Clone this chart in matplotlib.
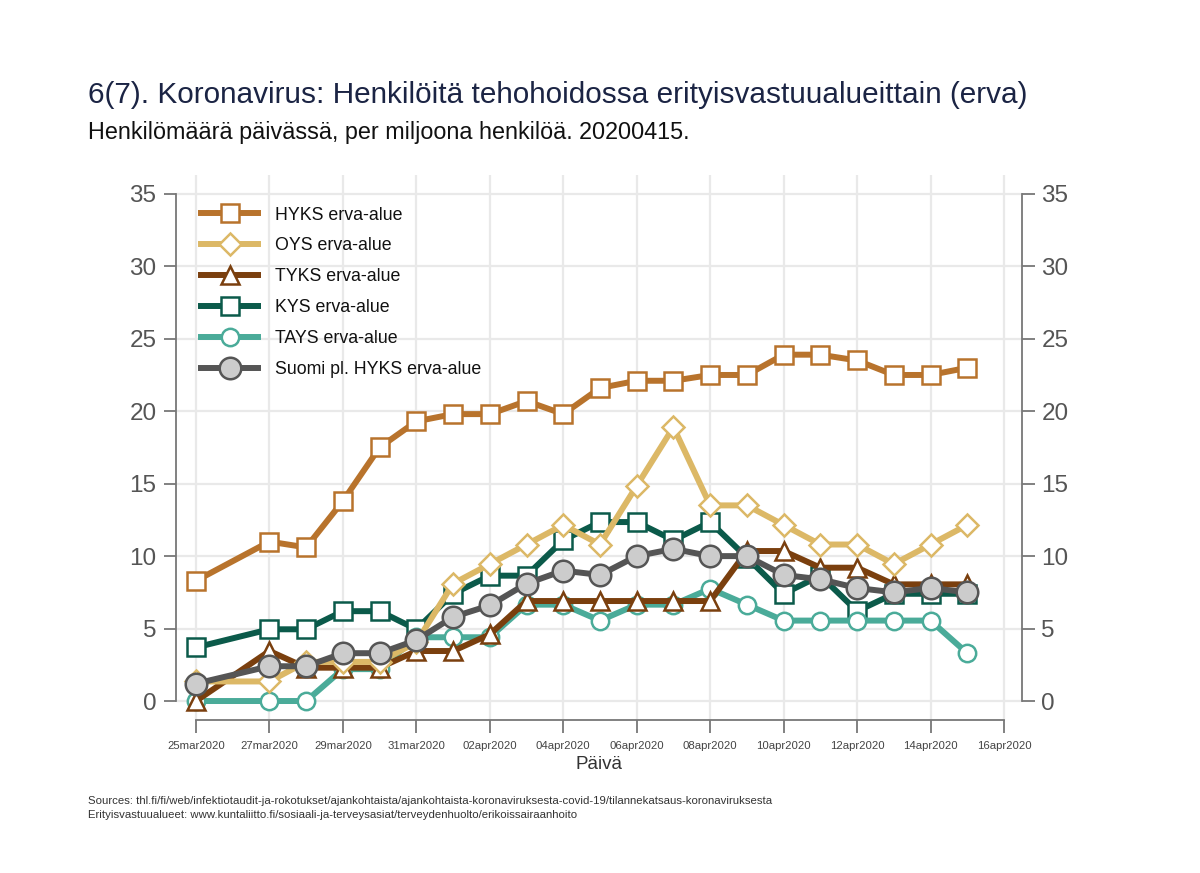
import matplotlib
matplotlib.use("Agg")
import matplotlib.pyplot as plt
import matplotlib.dates as mdates
import pandas as pd

plt.rcParams['font.family'] = ['Liberation Sans', 'DejaVu Sans']

dates = pd.to_datetime(['2020-03-25', '2020-03-27', '2020-03-28', '2020-03-29', '2020-03-30',
                        '2020-03-31', '2020-04-01', '2020-04-02', '2020-04-03', '2020-04-04',
                        '2020-04-05', '2020-04-06', '2020-04-07', '2020-04-08', '2020-04-09',
                        '2020-04-10', '2020-04-11', '2020-04-12', '2020-04-13', '2020-04-14',
                        '2020-04-15'])

hyks = [8.3, 11.0, 10.6, 13.8, 17.5, 19.3, 19.8, 19.8, 20.7, 19.8, 21.6, 22.1, 22.1, 22.5, 22.5,
        23.9, 23.9, 23.5, 22.5, 22.5, 23.0]
oys = [1.35, 1.35, 2.7, 2.7, 2.7, 4.05, 8.1, 9.45, 10.8, 12.15, 10.8, 14.85, 18.9, 13.5, 13.5,
       12.15, 10.8, 10.8, 9.45, 10.8, 12.15]
tyks = [0, 3.45, 2.3, 2.3, 2.3, 3.45, 3.45, 4.6, 6.9, 6.9, 6.9, 6.9, 6.9, 6.9, 10.35, 10.35,
        9.2, 9.2, 8.05, 8.05, 8.05]
kys = [3.7, 4.95, 4.95, 6.2, 6.2, 4.95, 7.4, 8.65, 8.65, 11.1, 12.35, 12.35, 11.1, 12.35, 9.9,
       7.4, 8.65, 6.2, 7.4, 7.4, 7.4]
tays = [0, 0, 0, 2.2, 2.2, 4.4, 4.4, 4.4, 6.65, 6.65, 5.55, 6.65, 6.65, 7.75, 6.65, 5.55, 5.55,
        5.55, 5.55, 5.55, 3.3]
suomi = [1.2, 2.4, 2.4, 3.3, 3.3, 4.2, 5.8, 6.6, 8.1, 9.0, 8.7, 10.0, 10.5, 10.0, 10.0, 8.7,
         8.4, 7.8, 7.5, 7.8, 7.5]

labels = ['HYKS erva-alue', 'OYS erva-alue', 'TYKS erva-alue', 'KYS erva-alue',
          'TAYS erva-alue', 'Suomi pl. HYKS erva-alue']

xtick_dates = pd.date_range('2020-03-25', '2020-04-16', freq='2D')
xtick_labels = ['25mar2020', '27mar2020', '29mar2020', '31mar2020', '02apr2020', '04apr2020',
                '06apr2020', '08apr2020', '10apr2020', '12apr2020', '14apr2020', '16apr2020']
yticks = [0, 5, 10, 15, 20, 25, 30, 35]

title = '6(7). Koronavirus: Henkilöitä tehohoidossa erityisvastuualueittain (erva)'
subtitle = 'Henkilömäärä päivässä, per miljoona henkilöä. 20200415.'
xlabel = 'Päivä'
sources = ('Sources: thl.fi/fi/web/infektiotaudit-ja-rokotukset/ajankohtaista/ajankohtaista-koronaviruksesta-covid-19/tilannekatsaus-koronaviruksesta\n'
           'Erityisvastuualueet: www.kuntaliitto.fi/sosiaali-ja-terveysasiat/terveydenhuolto/erikoissairaanhoito')

fig = plt.figure(figsize=(12, 8.73), dpi=100)
ax = fig.add_axes([176 / 1200, 1 - 720 / 873, (1022 - 176) / 1200, (720 - 175) / 873])

x0 = mdates.date2num(pd.Timestamp('2020-03-25'))
ax.set_xlim(x0 - 0.544, x0 + 22.49)
ax.set_ylim(-1.31, 36.3)

lw = 4.3
ms = 12.5
mew = 1.8
styles = {
    'HYKS': dict(color='#b8732c', marker='s', mfc='white', mec='#b8732c', ms=ms, z=5),
    'OYS': dict(color='#dcb866', marker='D', mfc='white', mec='#dcb866', ms=ms - 1.5, z=4),
    'TYKS': dict(color='#7a3f0e', marker='^', mfc='white', mec='#7a3f0e', ms=ms + 0.5, z=3.5),
    'KYS': dict(color='#0b5a4a', marker='s', mfc='white', mec='#0b5a4a', ms=ms, z=3),
    'TAYS': dict(color='#4aab99', marker='o', mfc='white', mec='#4aab99', ms=ms, z=3.2),
    'Suomi': dict(color='#555555', marker='o', mfc='#cccccc', mec='#555555', ms=ms + 3, z=6),
}
series = [('HYKS', hyks), ('OYS', oys), ('TYKS', tyks), ('KYS', kys), ('TAYS', tays), ('Suomi', suomi)]
handles = []
for (key, vals), lab in zip(series, labels):
    s = styles[key]
    h, = ax.plot(dates, vals, color=s['color'], lw=lw, marker=s['marker'], ms=s['ms'],
                 mfc=s['mfc'], mec=s['mec'], mew=mew, zorder=s['z'], label=lab,
                 solid_joinstyle='round')
    handles.append(h)

ax.set_xticks(xtick_dates)
ax.set_xticklabels(xtick_labels)
ax.set_yticks(yticks)
ax.grid(True, color='#e9e9e9', lw=1.6, zorder=0)
ax.set_axisbelow(True)

ax.spines['top'].set_visible(False)
for sp in ['left', 'right', 'bottom']:
    ax.spines[sp].set_color('#777777')
    ax.spines[sp].set_linewidth(1.3)
ax.spines['left'].set_bounds(0, 35)
ax.spines['right'].set_bounds(0, 35)
ax.spines['bottom'].set_bounds(mdates.date2num(xtick_dates[0]), mdates.date2num(xtick_dates[-1]))

ax.tick_params(axis='y', which='both', left=True, right=True, labelleft=True, labelright=True,
               length=9, width=1.3, color='#777777', labelsize=17.5, labelcolor='#555555', pad=5)
ax.tick_params(axis='x', length=9, width=1.3, color='#777777', labelsize=8.2, labelcolor='#444444', pad=6)

ax.set_xlabel(xlabel, fontsize=13.5, color='#333333', labelpad=4)

leg = ax.legend(handles=handles, loc='upper left', bbox_to_anchor=(0.015, 0.965), frameon=False,
                fontsize=12.8, handlelength=3.2, labelspacing=0.78, handletextpad=0.95,
                borderaxespad=0.3)
for t in leg.get_texts():
    t.set_color('#111111')

fig.text(88 / 1200, 1 - 95 / 873, title, fontsize=21.4, color='#1b2444', va='center', ha='left')
fig.text(88 / 1200, 1 - 133 / 873, subtitle, fontsize=16.8, color='#111111', va='center', ha='left')
fig.text(88 / 1200, 1 - 808 / 873, sources, fontsize=8.2, color='#333333', va='center', ha='left',
         linespacing=1.45)

fig.savefig('out.png', dpi=100)
